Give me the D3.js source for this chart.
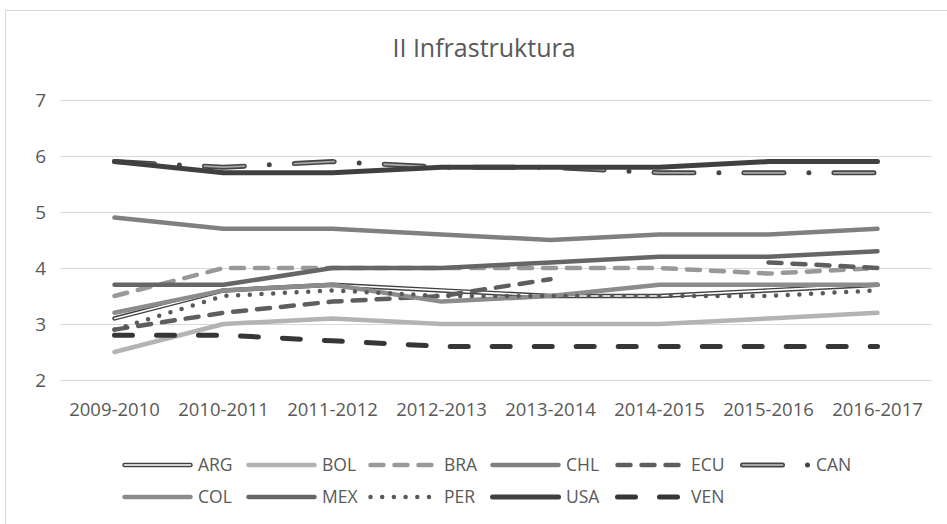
<!DOCTYPE html>
<html>
<head>
<meta charset="utf-8">
<script src="https://cdn.jsdelivr.net/npm/d3@7"></script>
<style>
  body { margin: 0; background: #fff; }
  text { font-family: "Open Sans", sans-serif; fill: #595959; }
</style>
</head>
<body>
<div class="chart"></div>
<script>
var width = 947,
    height = 524,
    margin = {top: 100, right: 15, bottom: 144, left: 60}

var years = ["2009-2010", "2010-2011", "2011-2012", "2012-2013", "2013-2014", "2014-2015", "2015-2016", "2016-2017"]
var yTicks = [2, 3, 4, 5, 6, 7]

var ARG = [3.1, 3.6, 3.7, 3.6, 3.5, 3.5, 3.6, 3.7]
var BOL = [2.5, 3.0, 3.1, 3.0, 3.0, 3.0, 3.1, 3.2]
var BRA = [3.5, 4.0, 4.0, 4.0, 4.0, 4.0, 3.9, 4.0]
var CHL = [4.9, 4.7, 4.7, 4.6, 4.5, 4.6, 4.6, 4.7]
var ECU = [2.9, 3.2, 3.4, 3.5, 3.8, null, 4.1, 4.0]
var CAN = [5.9, 5.8, 5.9, 5.8, 5.8, 5.7, 5.7, 5.7]
var COL = [3.2, 3.6, 3.7, 3.4, 3.5, 3.7, 3.7, 3.7]
var MEX = [3.7, 3.7, 4.0, 4.0, 4.1, 4.2, 4.2, 4.3]
var PER = [2.9, 3.5, 3.6, 3.5, 3.5, 3.5, 3.5, 3.6]
var USA = [5.9, 5.7, 5.7, 5.8, 5.8, 5.8, 5.9, 5.9]
var VEN = [2.8, 2.8, 2.7, 2.6, 2.6, 2.6, 2.6, 2.6]

// line looks, excel style
var series = [
  {name: "ARG", values: ARG, color: "#404040", w: 4.5, inner: "#ffffff", innerW: 1.6},
  {name: "BOL", values: BOL, color: "#b3b3b3", w: 4.5},
  {name: "BRA", values: BRA, color: "#999999", w: 4.5, dash: "13 11"},
  {name: "CHL", values: CHL, color: "#808080", w: 4.5},
  {name: "ECU", values: ECU, color: "#5e5e5e", w: 4.5, dash: "13 11"},
  {name: "CAN", values: CAN, color: "#454545", w: 5, dash: "40 25 0 25", inner: "#a6a6a6", innerW: 1.8, innerDash: "40 50"},
  {name: "COL", values: COL, color: "#8c8c8c", w: 4.5},
  {name: "MEX", values: MEX, color: "#666666", w: 4.5},
  {name: "PER", values: PER, color: "#595959", w: 4.5, dash: "0 11.7"},
  {name: "USA", values: USA, color: "#404040", w: 5},
  {name: "VEN", values: VEN, color: "#363636", w: 5, dash: "18 24"}
]

var svg = d3.select(".chart")
  .append("svg")
  .attr("width", width)
  .attr("height", height)

svg.append("rect")
  .attr("x", 5.5).attr("y", 10.5)
  .attr("width", width + 20).attr("height", height + 20)
  .attr("fill", "#fff")
  .attr("stroke", "#d9d9d9")

svg.append("text")
  .attr("x", 484).attr("y", 57)
  .attr("text-anchor", "middle")
  .style("font-size", "25px")
  .text("II Infrastruktura")

var x = d3.scaleBand()
  .domain(years)
  .range([margin.left, width - margin.right])

var y = d3.scaleLinear()
  .domain([2, 7])
  .range([height - margin.bottom, margin.top])

function cx(i) { return x(years[i]) + x.bandwidth() / 2 }

// grid
svg.append("g")
  .selectAll("line")
  .data(yTicks)
  .enter().append("line")
  .attr("x1", margin.left).attr("x2", width - margin.right)
  .attr("y1", function(d) { return Math.round(y(d)) + 0.5 })
  .attr("y2", function(d) { return Math.round(y(d)) + 0.5 })
  .attr("stroke", "#d9d9d9")
  .attr("stroke-width", 1)

var yAxis = svg.append("g")
  .attr("transform", "translate(" + (margin.left - 14) + ",0)")
  .call(d3.axisLeft(y).tickValues(yTicks).tickSize(0).tickPadding(0).tickFormat(d3.format("d")))
yAxis.select(".domain").remove()
yAxis.selectAll("text").style("font-size", "19px").attr("fill", "#595959")

var xAxis = svg.append("g")
  .attr("transform", "translate(0," + (height - margin.bottom + 20) + ")")
  .call(d3.axisBottom(x).tickSize(0).tickPadding(3))
xAxis.select(".domain").remove()
xAxis.selectAll("text").style("font-size", "18.5px").attr("fill", "#595959")

var line = d3.line()
  .defined(function(d) { return d != null })
  .x(function(d, i) { return cx(i) })
  .y(function(d) { return y(d) })

function styleLine(sel, s, inner) {
  sel.attr("fill", "none")
    .attr("stroke", inner ? s.inner : s.color)
    .attr("stroke-width", inner ? s.innerW : s.w)
    .attr("stroke-linecap", "round")
    .attr("stroke-linejoin", "round")
    .attr("stroke-dasharray", (inner ? s.innerDash : s.dash) || null)
}

var lines = svg.append("g").attr("class", "lines")
series.forEach(function(s) {
  var g = lines.append("g")
  g.append("path").attr("d", line(s.values)).call(styleLine, s, false)
  if (s.inner) g.append("path").attr("d", line(s.values)).call(styleLine, s, true)
})

// legend, two rows
var legX = [122, 246, 368, 490, 615, 740],
    legY = [465, 497],
    symLen = 70

var leg = svg.append("g").attr("class", "legend")
series.forEach(function(s, i) {
  var row = i < 6 ? 0 : 1,
      col = i < 6 ? i : i - 6
  var lx = legX[col] + 2.5, ly = legY[row]
  var sym = "M" + lx + "," + ly + "H" + (lx + symLen - 4)
  var g = leg.append("g")
  g.append("path").attr("d", sym).call(styleLine, s, false)
  if (s.inner) g.append("path").attr("d", sym).call(styleLine, s, true)
  g.append("text")
    .attr("x", legX[col] + symLen + 6)
    .attr("y", ly)
    .attr("dy", "0.35em")
    .style("font-size", "17.5px")
    .text(s.name)
})
</script>
</body>
</html>
